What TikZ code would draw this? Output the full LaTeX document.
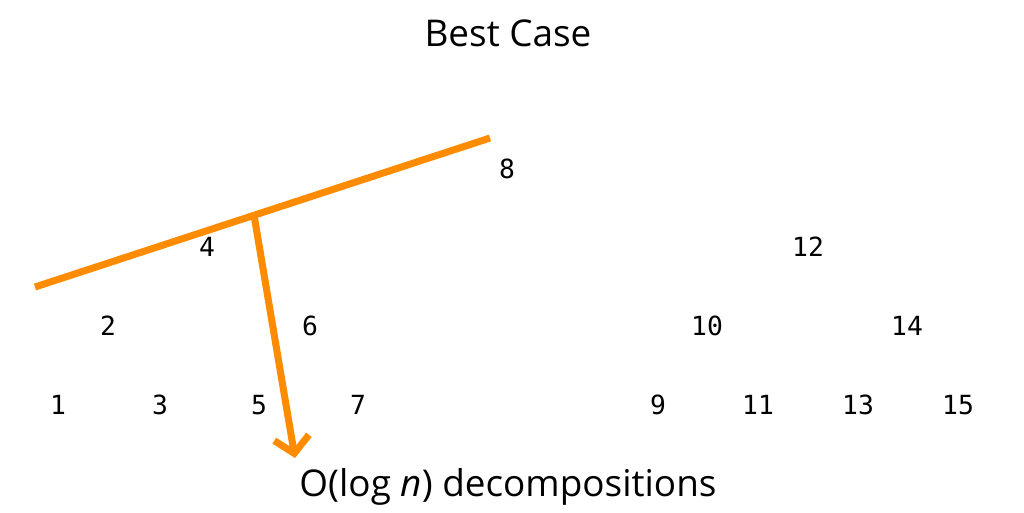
\documentclass[tikz,border=0pt]{standalone}
\usepackage{fontspec}
\setmainfont{Open Sans}
\newfontfamily\keyfont{DejaVu Sans Mono}
\usepackage{tikz}
\usetikzlibrary{positioning, arrows.meta}
\definecolor{cutorange}{RGB}{255,140,0}

\begin{document}
\begin{tikzpicture}[x=0.02cm,y=0.02cm,
        key/.style={inner sep=0pt,font=\keyfont\fontsize{15}{17}\selectfont},
        label/.style={inner sep=0pt,font=\fontsize{21}{25}\selectfont},
        cut/.style={draw=cutorange,line width=4pt},
        split/.style={draw=cutorange,line width=4pt,-{Straight Barb[length=9pt,width=20pt]}}]
        \useasboundingbox (0,0) rectangle (1024,512);
        \node[label] (title) at (508,479) {Best Case};
        \node[key] (n8)  at (507,343) {8};
        \node[key] (n4)  at (207,265) {4};
        \node[key] (n12) at (808,265) {12};
        \node[key] (n2)  at (108,186) {2};
        \node[key] (n6)  at (310,186) {6};
        \node[key] (n10) at (707,186) {10};
        \node[key] (n14) at (907,186) {14};
        \node[key] (n1)  at (58,107) {1};
        \node[key] (n3)  at (160,107) {3};
        \node[key] (n5)  at (259,107) {5};
        \node[key] (n7)  at (358,107) {7};
        \node[key] (n9)  at (658,107) {9};
        \node[key] (n11) at (758,107) {11};
        \node[key] (n13) at (858,107) {13};
        \node[key] (n15) at (958,107) {15};
        \node[label] (cost) at (508,25) {O(log \textit{n}) decompositions};

        \coordinate (left)  at (35,225);
        \coordinate (right) at (490,374);
        \coordinate (foot)  at (254,297);
        \coordinate (tip)   at (295,54);

        \path[cut] (left) -- (right);
        \path[split] (foot) -- (tip);
    \end{tikzpicture}
\end{document}
